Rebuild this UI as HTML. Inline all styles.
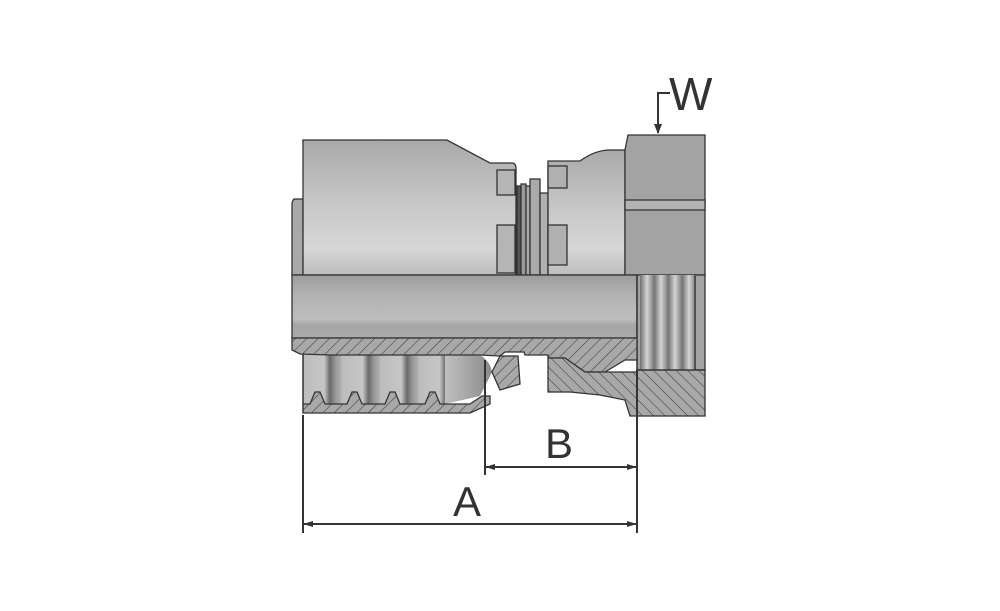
<!DOCTYPE html>
<html><head><style>
html,body{margin:0;padding:0;background:#fff;}
svg{display:block;}
text{font-family:"Liberation Sans",sans-serif;fill:#333;}
</style></head><body>
<svg width="1000" height="611" viewBox="0 0 1000 611" xmlns="http://www.w3.org/2000/svg">
<defs>
<linearGradient id="body" x1="0" y1="0" x2="0" y2="1">
<stop offset="0" stop-color="#a9a9a9"/><stop offset="0.5" stop-color="#c9c9c9"/><stop offset="0.8" stop-color="#d6d6d6"/><stop offset="1" stop-color="#bdbdbd"/>
</linearGradient>
<linearGradient id="tube" x1="0" y1="0" x2="0" y2="1">
<stop offset="0" stop-color="#9d9d9d"/><stop offset="0.35" stop-color="#b3b3b3"/><stop offset="0.7" stop-color="#bdbdbd"/><stop offset="0.8" stop-color="#a4a4a4"/><stop offset="1" stop-color="#acacac"/>
</linearGradient>
<linearGradient id="thr" x1="0" y1="0" x2="1" y2="0">
<stop offset="0" stop-color="#6f6f6f"/><stop offset="0.5" stop-color="#d4d4d4"/><stop offset="1" stop-color="#7a7a7a"/>
</linearGradient>
<pattern id="th" x="640" y="0" width="14" height="14" patternUnits="userSpaceOnUse">
<rect width="14" height="14" fill="url(#thr)"/>
</pattern>
<pattern id="h1" width="8" height="8" patternUnits="userSpaceOnUse" patternTransform="rotate(45)">
<rect width="8" height="8" fill="#a8a8a8"/><line x1="0" y1="0" x2="0" y2="8" stroke="#333" stroke-width="1"/>
</pattern>
<pattern id="h2" width="8" height="8" patternUnits="userSpaceOnUse" patternTransform="rotate(-45)">
<rect width="8" height="8" fill="#a8a8a8"/><line x1="0" y1="0" x2="0" y2="8" stroke="#333" stroke-width="1"/>
</pattern>
<linearGradient id="rib" x1="0" y1="0" x2="1" y2="0">
<stop offset="0" stop-color="#bcbcbc"/><stop offset="0.55" stop-color="#c6c6c6"/><stop offset="0.7" stop-color="#6a6a6a"/><stop offset="0.85" stop-color="#9a9a9a"/><stop offset="1" stop-color="#b0b0b0"/>
</linearGradient>
<pattern id="ribs" x="303" y="0" width="38.5" height="60" patternUnits="userSpaceOnUse">
<rect width="38.5" height="60" fill="url(#rib)"/>
</pattern>
<linearGradient id="taper" x1="0" y1="0" x2="1" y2="0">
<stop offset="0" stop-color="#c0c0c0"/><stop offset="1" stop-color="#8a8a8a"/>
</linearGradient>
</defs>
<g stroke="#333" stroke-width="1.3">
<path d="M303 199 L294 199 Q292 201 292 205 L292 275 L303 275 Z" fill="#a9a9a9"/>
<path d="M303 140 L447 140 L490 163 L513 163 Q516 164 516 168 L516 275 L303 275 Z" fill="url(#body)"/>
<rect x="497" y="170" width="18" height="25" fill="#b5b5b5"/>
<rect x="497" y="225" width="18" height="48" fill="#b5b5b5"/>
<rect x="517" y="186" width="4" height="89" fill="#555"/>
<rect x="521" y="184" width="5" height="91" fill="#999"/>
<rect x="526" y="186" width="4" height="89" fill="#aaa"/>
<rect x="530" y="179" width="10" height="96" fill="#aaa"/>
<rect x="540" y="193" width="8" height="82" fill="#b0b0b0"/>
<path d="M548 161 L580 161 Q595 150 610 150 L625 150 L625 275 L548 275 Z" fill="url(#body)"/>
<rect x="548" y="166" width="19" height="22" fill="#b0b0b0"/>
<rect x="548" y="225" width="19" height="40" fill="#b0b0b0"/>
<path d="M628 135 L705 135 L705 275 L625 275 L625 150 Z" fill="#a3a3a3"/>
<path d="M625 200 L705 200 L705 210 L625 210 Z" fill="#b3b3b3"/>
<rect x="292" y="275" width="345" height="63" fill="url(#tube)"/>
<rect x="637" y="275" width="68" height="95" fill="#a3a3a3"/>
<rect x="640" y="275" width="56" height="95" fill="url(#th)" stroke="none"/>
<line x1="637" y1="275" x2="637" y2="370"/>
<line x1="695" y1="275" x2="695" y2="370"/>
<!-- ribs under socket -->
<rect x="303" y="354" width="142" height="52" fill="url(#ribs)" stroke="none"/>
<path d="M445 354 L478 354 Q490 360 492 372 L480 396 L445 404 Z" fill="url(#taper)" stroke="none"/>
<line x1="303" y1="354" x2="303" y2="413"/>
<path d="M303 354 L303 413 L470 413 L490 404 L490 396 L482 396 L470 404 L440 404 L435 392 L430 392 L425 404 L400 404 L395 392 L390 392 L385 404 L362 404 L357 392 L352 392 L347 404 L325 404 L320 392 L315 392 L310 404 L303 404" fill="url(#h1)"/>
<!-- nipple stem hatch -->
<path d="M292 338 L637 338 L637 360 L625 360 L605 372 L585 372 L565 358 L548 358 L548 355 L525 355 L524 352 L505 352 L500 356 L480 355 L330 355 L300 354 L292 350 Z" fill="url(#h1)"/>
<path d="M500 356 L518 356 L520 384 L500 390 L492 372 Z" fill="url(#h1)"/>
<path d="M548 358 L565 358 L585 372 L637 372 L637 370 L705 370 L705 416 L630 416 L625 400 L600 395 L570 392 L548 392 Z" fill="url(#h2)"/>
<line x1="637" y1="370" x2="705" y2="370"/>
</g>
<g stroke="#333" stroke-width="2" fill="#333">
<line x1="303" y1="415" x2="303" y2="533"/>
<line x1="485" y1="360" x2="485" y2="475"/>
<line x1="637" y1="370" x2="637" y2="533"/>
<line x1="303" y1="524" x2="637" y2="524"/>
<line x1="485" y1="467" x2="637" y2="467"/>
<path d="M303 524 L313 521 L313 527 Z M637 524 L627 521 L627 527 Z M485 467 L495 464 L495 470 Z M637 467 L627 464 L627 470 Z" stroke="none"/>
<path d="M670 93 L658 93 L658 133" fill="none"/>
<path d="M658 134 L654 124 L662 124 Z" stroke="none"/>
</g>
<text x="669" y="110" font-size="46">W</text>
<text x="545" y="458" font-size="42">B</text>
<text x="453" y="516" font-size="42">A</text>
</svg>
</body></html>
